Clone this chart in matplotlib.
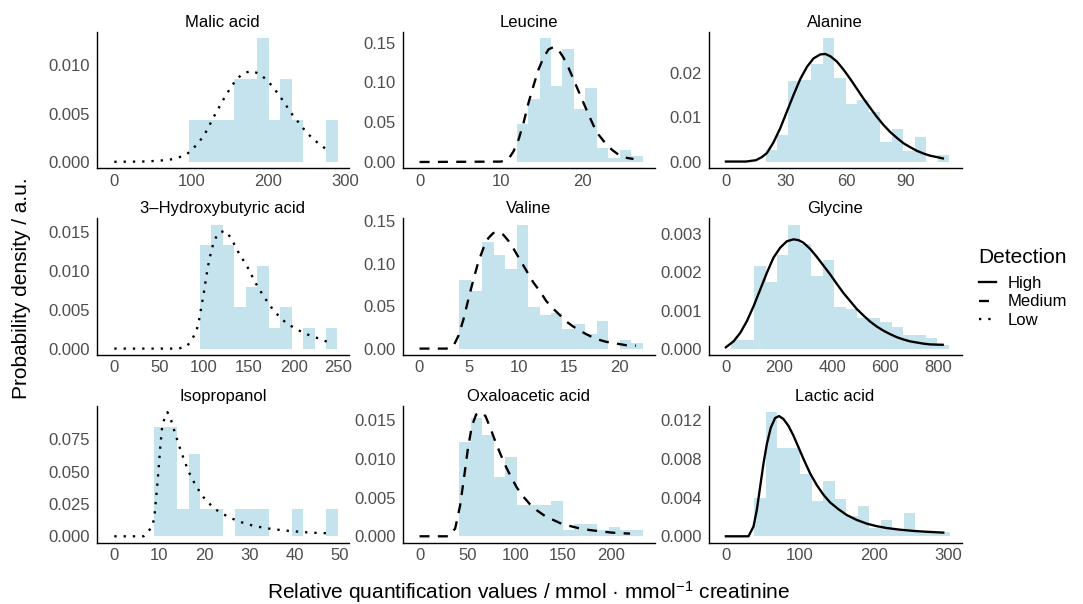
import matplotlib
matplotlib.use("Agg")
import matplotlib.pyplot as plt
from matplotlib.lines import Line2D
from matplotlib.ticker import StrMethodFormatter

# Metabolites, one panel each (row by row)
names = ["Malic acid", "Leucine", "Alanine",
         "3\u2013Hydroxybutyric acid", "Valine", "Glycine",
         "Isopropanol", "Oxaloacetic acid", "Lactic acid"]
detection = ["Low", "Medium", "High",
             "Low", "Medium", "High",
             "Low", "Medium", "High"]

# Histogram bins: first edge, bin width and density per bin
bin_start = [96.5, 11.9, 19.8, 95.2, 4.0, 20.1, 8.9, 41.8, 38.5]
bin_width = [14.9, 1.41, 5.74, 12.8, 1.147, 43.1, 2.544, 12.0, 15.48]
densities = [
    [0.0043, 0.0043, 0.0043, 0.0043, 0.0086, 0.0086, 0.0128, 0.0043, 0.0086, 0.0043, 0, 0, 0.0043],
    [0.048, 0.079, 0.156, 0.095, 0.142, 0.067, 0.093, 0.018, 0.005, 0.015, 0.007],
    [0.0026, 0.0061, 0.0181, 0.0184, 0.0219, 0.0278, 0.0189, 0.0129, 0.0138, 0.0113,
     0.0045, 0.0074, 0.0024, 0.0057, 0, 0.0015],
    [0.0134, 0.0160, 0.0133, 0.0053, 0.0080, 0.0107, 0.0027, 0.0053, 0, 0.0027, 0, 0.0027],
    [0.081, 0.068, 0.126, 0.110, 0.094, 0.146, 0.049, 0.039, 0.042, 0.0226, 0.029, 0.0168,
     0.032, 0, 0.010, 0.007],
    [0.00022, 0.00022, 0.00217, 0.00175, 0.00246, 0.00326, 0.00274, 0.00192, 0.00233, 0.0011,
     0.00104, 0.00081, 0.00081, 0.0007, 0.00056, 0.00035, 0.00035, 0.00028, 0.0001],
    [0.0845, 0.0845, 0.0211, 0.0634, 0.0211, 0.0211, 0, 0.0211, 0.0211, 0.0211, 0, 0, 0.0211,
     0, 0, 0.0211],
    [0.0122, 0.0152, 0.0130, 0.0077, 0.0102, 0.0040, 0.0040, 0.0040, 0.0045, 0.0008, 0.0016,
     0.0016, 0.0008, 0.0012, 0.0008, 0.0008],
    [0.0040, 0.0128, 0.0091, 0.0091, 0.0064, 0.0036, 0.0057, 0.0038, 0.0021, 0.0031, 0.0009,
     0.0017, 0.0007, 0.0024, 0.0004, 0.0004, 0.0004],
]

# Fitted density curves
curve_x = [
    [0, 40, 70, 81, 93.5, 102.2, 110.4, 116.9, 122.5, 128.1, 133.8, 139.4, 145.0, 151.5, 158.4,
     166.7, 177.5, 188.7, 197.4, 205.6, 213.0, 219.5, 226.0, 232.9, 240.3, 247.2, 255.4, 264.1, 274.0],
    [0, 10, 10.92, 11.53, 12.15, 12.76, 13.37, 13.99, 14.6, 15.21, 15.83, 16.44, 17.06, 17.67,
     18.28, 18.9, 19.51, 20.12, 20.74, 21.35, 21.96, 22.78, 23.6, 24.42, 25.24, 26.26],
    [0, 10, 15, 18, 20.5, 23.8, 27.2, 30.5, 33.8, 37.2, 40.5, 43.8, 47.2, 49.7, 52.2, 55.5, 58.8,
     62.2, 65.5, 68.8, 72.2, 75.5, 78.8, 82.2, 85.5, 88.8, 92.2, 95.5, 98.8, 102.2, 105.5, 108.5],
    [0, 71.7, 81, 86.6, 91.4, 94, 95.9, 97.8, 99.6, 101.1, 102.6, 104.1, 106, 108.2, 110.8, 115.2,
     122.7, 129.4, 134.9, 139.8, 146.1, 150.9, 155.4, 160.2, 165.8, 171.4, 177.7, 185.1, 192.6,
     201.9, 211.2, 220.4, 230.5, 240.9],
    [0, 2.7, 3.4, 3.9, 4.4, 4.9, 5.4, 5.9, 6.4, 6.9, 7.4, 7.9, 8.4, 8.9, 9.4, 9.9, 10.4, 10.9,
     11.4, 12.1, 12.7, 13.4, 14.1, 14.7, 15.4, 16.1, 16.7, 17.4, 18.1, 18.7, 19.7, 20.7, 21.7],
    [0, 28.8, 53.9, 79, 104.1, 129.2, 154.2, 179.3, 204.4, 229.5, 254.5, 273.4, 292.2, 317.2,
     342.3, 367.4, 392.5, 417.6, 442.6, 467.7, 492.8, 517.9, 543, 568, 593.1, 618.2, 643.3,
     668.3, 693.4, 718.5, 743.6, 768.7, 816.3],
    [0, 6.5, 8.4, 8.9, 9.2, 9.6, 9.9, 10.2, 10.6, 11.2, 11.8, 12.6, 13.3, 14.3, 15.4, 16.5, 17.5,
     18.5, 19.6, 20.9, 22.4, 24.0, 25.7, 27.6, 29.6, 31.5, 33.5, 35.5, 37.6, 39.6, 41.6, 43.6,
     45.7, 47.6],
    [0, 30.3, 37.3, 42.5, 46.7, 50.5, 54.7, 59.2, 64.1, 69, 73.9, 79.1, 84.3, 89.5, 95.5, 101.7,
     108.7, 115.7, 123.3, 131.4, 140, 148.8, 158.2, 168, 178.4, 188.9, 198.9, 209.8, 220.2],
    [0, 30.5, 37.2, 41.7, 46.2, 50.7, 55.2, 60.5, 66.4, 71.7, 77.6, 84.3, 91, 97.8, 104.5, 113.5,
     122.4, 131.4, 140.4, 151.6, 162.8, 176, 190, 203, 217, 235, 252, 270, 293],
]
curve_y = [
    [0.00002, 0.00005, 0.0002, 0.0004, 0.00075, 0.00137, 0.0021, 0.0028, 0.0036, 0.0045, 0.0053,
     0.0061, 0.0069, 0.0077, 0.0085, 0.0091, 0.0094, 0.0091, 0.0085, 0.0078, 0.0070, 0.0063,
     0.0055, 0.0047, 0.0040, 0.0033, 0.0026, 0.0020, 0.0014],
    [0, 0.0005, 0.0038, 0.0134, 0.0282, 0.0492, 0.0744, 0.0962, 0.1164, 0.1311, 0.1416, 0.1445,
     0.1408, 0.1311, 0.1185, 0.1038, 0.0891, 0.0744, 0.0597, 0.0458, 0.0345, 0.024, 0.0155,
     0.0092, 0.0055, 0.0038],
    [0.0001, 0.0001, 0.0004, 0.0011, 0.002, 0.0044, 0.0076, 0.0113, 0.015, 0.0186, 0.0213, 0.0232,
     0.0241, 0.0242, 0.0237, 0.0225, 0.0207, 0.0186, 0.0164, 0.0142, 0.0121, 0.0101, 0.0083,
     0.0067, 0.0054, 0.0042, 0.0033, 0.0025, 0.0019, 0.0014, 0.0011, 0.0008],
    [0, 0, 0.0003, 0.0012, 0.0022, 0.0034, 0.0046, 0.0059, 0.007, 0.0082, 0.0093, 0.0104, 0.0115,
     0.0126, 0.0137, 0.0148, 0.0152, 0.0144, 0.0132, 0.0121, 0.011, 0.01, 0.0089, 0.0079, 0.0069,
     0.0059, 0.0049, 0.004, 0.0032, 0.0026, 0.002, 0.0016, 0.0012, 0.0007],
    [0, 0, 0.003, 0.015, 0.034, 0.058, 0.081, 0.102, 0.118, 0.130, 0.136, 0.137, 0.134, 0.127,
     0.118, 0.108, 0.098, 0.088, 0.078, 0.067, 0.056, 0.047, 0.039, 0.032, 0.026, 0.021, 0.017,
     0.013, 0.010, 0.008, 0.006, 0.004, 0.0035],
    [0.000035, 0.00019, 0.00041, 0.00072, 0.00111, 0.00155, 0.00199, 0.00239, 0.00265, 0.00282,
     0.00287, 0.00285, 0.00278, 0.00262, 0.00241, 0.00218, 0.00195, 0.0017, 0.00146, 0.00125,
     0.00104, 0.00087, 0.00071, 0.00058, 0.00047, 0.00038, 0.0003, 0.00024, 0.00019, 0.00016,
     0.00013, 0.00011, 0.0001],
    [0, 0, 0.0072, 0.015, 0.0265, 0.042, 0.055, 0.069, 0.084, 0.092, 0.096, 0.090, 0.082, 0.071,
     0.060, 0.050, 0.043, 0.037, 0.031, 0.026, 0.021, 0.0175, 0.0144, 0.0116, 0.0093, 0.0077,
     0.0064, 0.0054, 0.0046, 0.0039, 0.0034, 0.0028, 0.0026, 0.0023],
    [0, 0, 0.001, 0.004, 0.0077, 0.0112, 0.0142, 0.0157, 0.016, 0.0155, 0.014, 0.0123, 0.0107,
     0.0092, 0.0077, 0.0063, 0.0051, 0.0041, 0.0033, 0.0026, 0.0021, 0.0016, 0.0013, 0.001,
     0.0008, 0.00065, 0.0005, 0.0004, 0.00035],
    [0, 0, 0.001, 0.0027, 0.0051, 0.0075, 0.0095, 0.0112, 0.0122, 0.0124, 0.0121, 0.0114, 0.0104,
     0.0092, 0.008, 0.0065, 0.0053, 0.0043, 0.0035, 0.0028, 0.0022, 0.0017, 0.0013, 0.00105,
     0.00085, 0.00068, 0.00056, 0.00047, 0.00038],
]

# Axis ranges and ticks
x_limits = [(-22.5, 304.3), (-2.1, 28.9), (-8.7, 117.8),
            (-19.3, 261.1), (-1.7, 23.6), (-65.4, 887),
            (-3.84, 52.0), (-17.8, 246.3), (-23.4, 317.6)]
x_ticks = [[0, 100, 200, 300], [0, 10, 20], [0, 30, 60, 90],
           [0, 50, 100, 150, 200, 250], [0, 5, 10, 15, 20], [0, 200, 400, 600, 800],
           [0, 10, 20, 30, 40, 50], [0, 50, 100, 150, 200], [0, 100, 200, 300]]
y_ticks = [[0, 0.005, 0.010], [0, 0.05, 0.10, 0.15], [0, 0.01, 0.02],
           [0, 0.005, 0.010, 0.015], [0, 0.05, 0.10, 0.15], [0, 0.001, 0.002, 0.003],
           [0, 0.025, 0.050, 0.075], [0, 0.005, 0.010, 0.015], [0, 0.004, 0.008, 0.012]]
y_decimals = [3, 2, 2, 3, 2, 3, 3, 3, 3]

line_styles = {"High": "-", "Medium": (0, (4.3, 3.6)), "Low": (0, (1, 3))}

plt.rcParams["font.family"] = ["Liberation Sans", "DejaVu Sans"]
plt.rcParams["mathtext.default"] = "regular"

W, H = 1083, 604
fig = plt.figure(figsize=(W / 100, H / 100), dpi=100)

col_left = [97, 402.5, 708.5]
col_width = [251.5, 252.5, 253]
row_top = [31.7, 218.3, 406]
row_height = 136.5

for i, name in enumerate(names):
    r, c = divmod(i, 3)
    ax = fig.add_axes([col_left[c] / W, 1 - (row_top[r] + row_height) / H,
                       col_width[c] / W, row_height / H])
    lefts = [bin_start[i] + k * bin_width[i] for k in range(len(densities[i]))]
    ax.bar(lefts, densities[i], width=bin_width[i], align="edge",
           color="lightblue", alpha=0.7, linewidth=0)
    ax.plot(curve_x[i], curve_y[i], color="black", lw=1.67,
            linestyle=line_styles[detection[i]], zorder=3)

    top = max(max(densities[i]), max(curve_y[i]))
    ax.set_ylim(-0.05 * top, 1.05 * top)
    ax.set_xlim(x_limits[i])
    ax.set_xticks(x_ticks[i])
    ax.set_yticks(y_ticks[i])
    ax.yaxis.set_major_formatter(StrMethodFormatter("{x:.%df}" % y_decimals[i]))

    for s in ["top", "right"]:
        ax.spines[s].set_visible(False)
    for s in ["left", "bottom"]:
        ax.spines[s].set_linewidth(1.0)
        ax.spines[s].set_color("black")
    ax.tick_params(length=0, labelsize=12, labelcolor="#4D4D4D")
    ax.tick_params(axis="x", pad=4)
    ax.tick_params(axis="y", pad=5)
    ax.set_title(name, fontsize=12, pad=3.5)

fig.text(529 / W, 1 - 592 / H,
         "Relative quantification values / mmol \u00b7 mmol$^{-1}$ creatinine",
         ha="center", va="center", fontsize=15)
fig.text(22 / W, 1 - 288 / H, "Probability density / a.u.",
         ha="center", va="center", rotation=90, fontsize=15)

# Legend: title placed on its own, entries below it
fig.text(978 / W, 1 - 262.5 / H, "Detection", ha="left", va="baseline", fontsize=15)
handles = [Line2D([], [], color="black", lw=1.67, linestyle=line_styles[k])
           for k in ["High", "Medium", "Low"]]
fig.legend(handles, ["High", "Medium", "Low"],
           loc="upper left", bbox_to_anchor=(979 / W, 1 - 275.6 / H),
           frameon=False, fontsize=12, handlelength=1.0, handletextpad=0.7,
           labelspacing=0.23, borderpad=0, borderaxespad=0)

fig.savefig("out.png", dpi=100)
